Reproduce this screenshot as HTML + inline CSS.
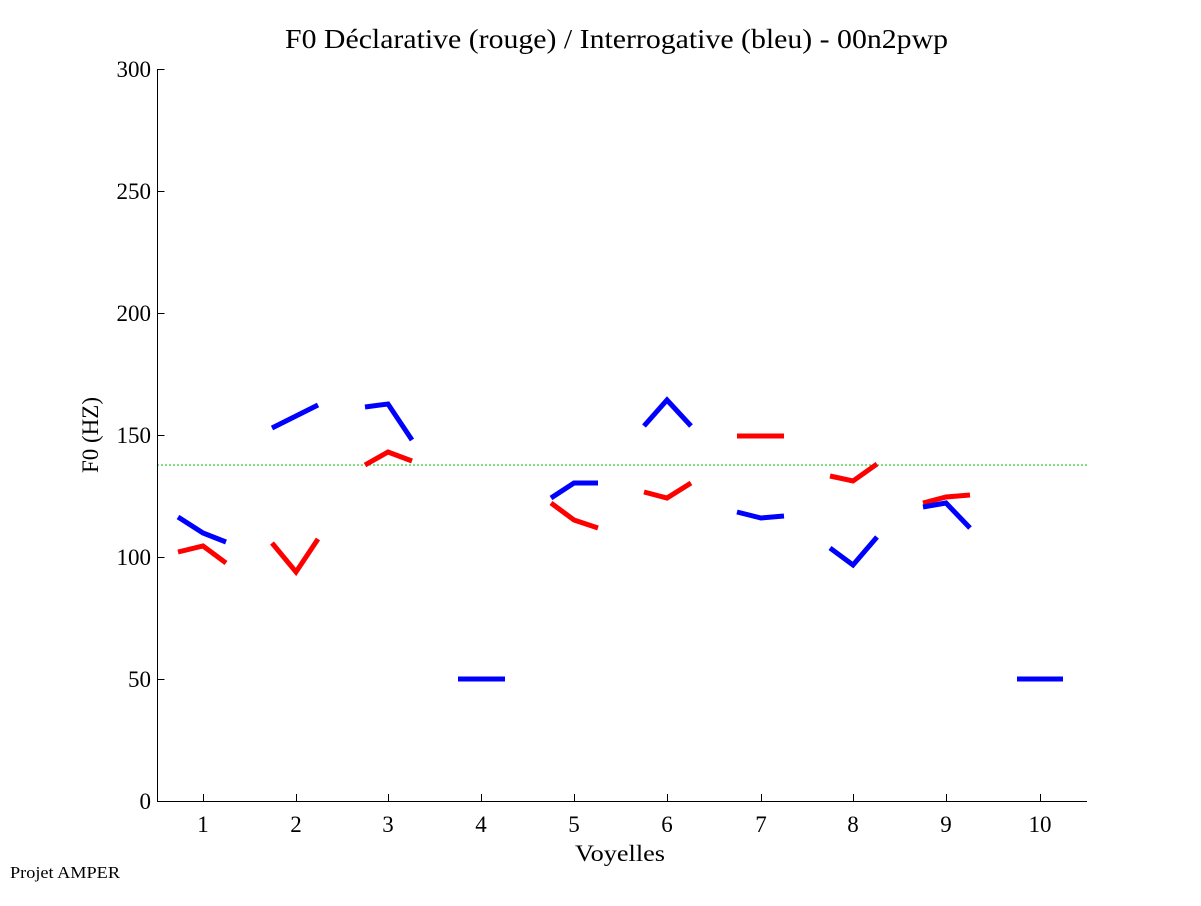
<!DOCTYPE html>
<html><head><meta charset="utf-8"><style>body{margin:0;background:#fff}</style></head><body>
<svg width="1201" height="901" xmlns="http://www.w3.org/2000/svg" font-family="Liberation Serif, serif">
<rect width="1201" height="901" fill="#fff"/>
<text x="285" y="48" font-size="27" textLength="663" lengthAdjust="spacingAndGlyphs">F0 Déclarative (rouge) / Interrogative (bleu) - 00n2pwp</text>
<line x1="157" y1="465" x2="1087" y2="465" stroke="#00c000" stroke-width="1" stroke-dasharray="2,2"/>
<g stroke="#000" stroke-width="1" fill="none">
<line x1="157.5" y1="69" x2="157.5" y2="801"/>
<line x1="157" y1="801.5" x2="1087" y2="801.5"/>
<path d="M157.5 69.5h7M157.5 191.5h7M157.5 313.5h7M157.5 435.5h7M157.5 557.5h7M157.5 679.5h7M157.5 801.5h7"/>
<path d="M203.5 801v-7M296.5 801v-7M388.5 801v-7M481.5 801v-7M574.5 801v-7M667.5 801v-7M761.5 801v-7M853.5 801v-7M946.5 801v-7M1040.5 801v-7"/>
</g>
<g font-size="23" text-anchor="end">
<text x="151" y="77">300</text><text x="151" y="199">250</text><text x="151" y="321">200</text>
<text x="151" y="443">150</text><text x="151" y="565">100</text><text x="151" y="687">50</text><text x="151" y="809">0</text>
</g>
<g font-size="23" text-anchor="middle">
<text x="203" y="832">1</text><text x="296" y="832">2</text><text x="388" y="832">3</text><text x="481" y="832">4</text><text x="574" y="832">5</text><text x="667" y="832">6</text><text x="761" y="832">7</text><text x="853" y="832">8</text><text x="946" y="832">9</text><text x="1040" y="832">10</text>
</g>
<text x="575" y="861" font-size="23" textLength="90" lengthAdjust="spacingAndGlyphs">Voyelles</text>
<text transform="translate(98,435) rotate(-90)" font-size="23" text-anchor="middle">F0 (HZ)</text>
<text x="10" y="878" font-size="17" textLength="110" lengthAdjust="spacingAndGlyphs">Projet AMPER</text>
<g stroke="#f00" stroke-width="5" fill="none">
<polyline points="178,552 203,546 226,563"/>
<polyline points="272,543 296,572 318,539"/>
<polyline points="365,465 388,452 412,461"/>
<polyline points="551,503 574,520 598,528"/>
<polyline points="644,492 667,498 691,483"/>
<polyline points="737,436 784,436"/>
<polyline points="830,476 853,481 877,464"/>
<polyline points="923,503 946,497 970,495"/>
</g>
<g stroke="#00f" stroke-width="5" fill="none">
<polyline points="178,517 203,533 226,542"/>
<polyline points="272,428 296,416 318,405"/>
<polyline points="365,407 388,404 412,440"/>
<polyline points="458,679 505,679"/>
<polyline points="551,498 574,483 598,483"/>
<polyline points="644,426 667,400 691,426"/>
<polyline points="737,512 761,518 784,516"/>
<polyline points="830,548 853,565 877,537"/>
<polyline points="923,507 946,503 970,528"/>
<polyline points="1017,679 1063,679"/>
</g>
</svg>
</body></html>
